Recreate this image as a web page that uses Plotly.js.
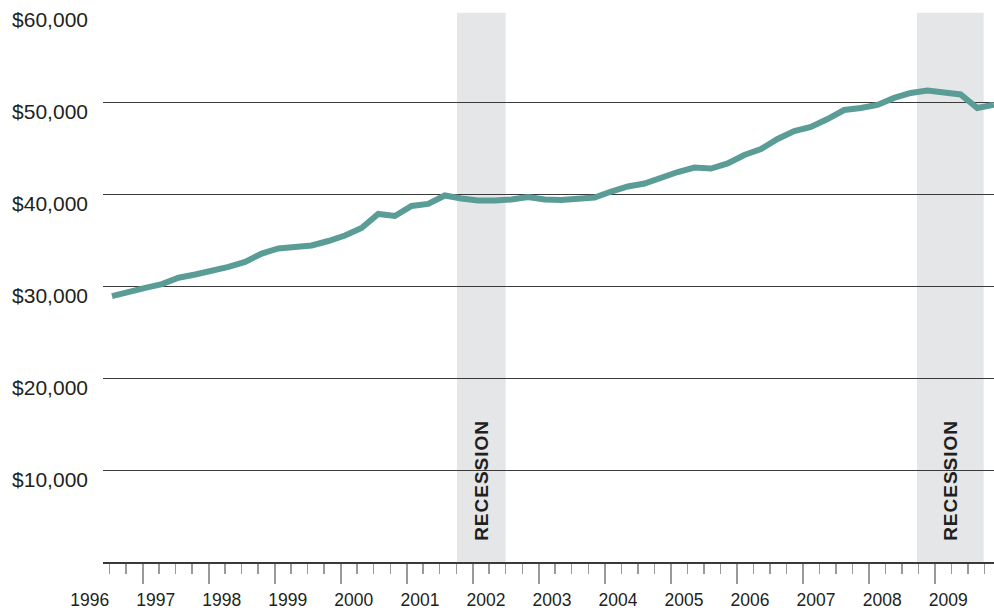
<!DOCTYPE html>
<html>
<head>
<meta charset="utf-8">
<script src="https://cdn.plot.ly/plotly-3.0.1.min.js"></script>
<style>
  html, body { margin: 0; padding: 0; background: #fff; }
  #chart { width: 994px; height: 611px; }
  #chart .annotation-text { letter-spacing: 1px; }
</style>
</head>
<body>
<div id="chart"></div>
<script>
	"use strict";

	// quarterly series, 1996 Q3 .. 2009 Q4
	var quarters = [
		'1996 Q3', '1996 Q4',
		'1997 Q1', '1997 Q2', '1997 Q3', '1997 Q4',
		'1998 Q1', '1998 Q2', '1998 Q3', '1998 Q4',
		'1999 Q1', '1999 Q2', '1999 Q3', '1999 Q4',
		'2000 Q1', '2000 Q2', '2000 Q3', '2000 Q4',
		'2001 Q1', '2001 Q2', '2001 Q3', '2001 Q4',
		'2002 Q1', '2002 Q2', '2002 Q3', '2002 Q4',
		'2003 Q1', '2003 Q2', '2003 Q3', '2003 Q4',
		'2004 Q1', '2004 Q2', '2004 Q3', '2004 Q4',
		'2005 Q1', '2005 Q2', '2005 Q3', '2005 Q4',
		'2006 Q1', '2006 Q2', '2006 Q3', '2006 Q4',
		'2007 Q1', '2007 Q2', '2007 Q3', '2007 Q4',
		'2008 Q1', '2008 Q2', '2008 Q3', '2008 Q4',
		'2009 Q1', '2009 Q2', '2009 Q3', '2009 Q4'
	];
	var values = [
		28900, 29400,
		29800, 30200, 30900, 31250,
		31580, 32070, 32610, 33530,
		34080, 34300, 34400, 34890,
		35490, 36310, 37830, 37610,
		38700, 38920, 39840, 39510,
		39300, 39300, 39400, 39680,
		39400, 39350, 39460, 39620,
		40270, 40820, 41140, 41850,
		42390, 42880, 42770, 43320,
		44240, 44890, 45980, 46850,
		47290, 48150, 49130, 49350,
		49680, 50440, 50980, 51250,
		51090, 50820, 49350, 49700
	];

	// recession bands on the printed year scale
	var recessionStart = ['2001-10-05', '2008-09-22'];
	var recessionEnd = ['2002-07-01', '2009-09-26'];
	var recessionLabel = ['RECESSION', 'RECESSION'];

	var yTickVals = [10000, 20000, 30000, 40000, 50000, 60000];
	var yTickText = ['$10,000', '$20,000', '$30,000', '$40,000', '$50,000', '$60,000'];

	var lineColor = '#5a9d96';
	var bandColor = '#e5e6e7';
	var textColor = '#231f20';
	var fontFamily = '"Liberation Sans", Arial, Helvetica, sans-serif';

	var trace = {
		type: 'scatter',
		mode: 'lines',
		x: quarters,
		y: values,
		xaxis: 'x2',
		yaxis: 'y',
		line: { color: lineColor, width: 6, shape: 'linear' },
		hoverinfo: 'skip',
		showlegend: false
	};

	var shapes = recessionStart.map(function (s, i) {
		return {
			type: 'rect', xref: 'x', yref: 'y',
			x0: s, x1: recessionEnd[i], y0: 0, y1: 59700,
			fillcolor: bandColor, line: { width: 0 }, layer: 'below'
		};
	});

	var annotations = recessionStart.map(function (s, i) {
		var mid = (new Date(s).getTime() + new Date(recessionEnd[i]).getTime()) / 2;
		return {
			xref: 'x', yref: 'y',
			x: new Date(mid).toISOString().slice(0, 10), y: 8900,
			text: recessionLabel[i], textangle: -90, showarrow: false,
			xanchor: 'center', yanchor: 'middle',
			font: { family: fontFamily, size: 19, color: textColor, weight: 'bold' }
		};
	});

	var layout = {
		width: 994,
		height: 611,
		margin: { l: 103, r: 0, t: 10, b: 49, pad: 0 },
		paper_bgcolor: '#fff',
		plot_bgcolor: 'rgba(0,0,0,0)',
		font: { family: fontFamily, color: textColor },
		showlegend: false,
		xaxis: {
			type: 'date',
			range: ['1996-05-26', '2009-11-22'],
			anchor: 'y',
			showgrid: false,
			zeroline: false,
			showline: true,
			linecolor: '#3a3a3a',
			linewidth: 1.5,
			ticks: 'outside',
			ticklen: 20,
			tickwidth: 1.5,
			tickcolor: '#9a9a9a',
			tick0: '1996-01-01',
			dtick: 'M12',
			tickformat: '%Y',
			ticklabelmode: 'period',
			ticklabelshift: -20,
			ticklabelstandoff: 1,
			tickfont: { size: 17.5, color: textColor },
			minor: {
				ticks: 'outside', tick0: '1996-01-01', dtick: 'M3',
				ticklen: 10, tickwidth: 1.5, tickcolor: '#9a9a9a', showgrid: false
			},
			fixedrange: true,
			automargin: false
		},
		xaxis2: {
			type: 'category',
			overlaying: 'x',
			anchor: 'y',
			range: [-0.541, 53.005],
			visible: false,
			fixedrange: true
		},
		yaxis: {
			range: [0, 60000],
			tickmode: 'array',
			tickvals: yTickVals,
			ticktext: yTickText,
			ticks: '',
			showline: false,
			zeroline: false,
			showgrid: true,
			gridcolor: '#3a3a3a',
			gridwidth: 1,
			ticklabelposition: 'outside bottom',
			ticklabelstandoff: 14,
			ticklabelshift: -5,
			tickfont: { size: 21, color: textColor },
			fixedrange: true,
			automargin: false
		},
		shapes: shapes,
		annotations: annotations
	};

	Plotly.newPlot('chart', [trace], layout, { displayModeBar: false, staticPlot: true });
</script>
</body>
</html>
